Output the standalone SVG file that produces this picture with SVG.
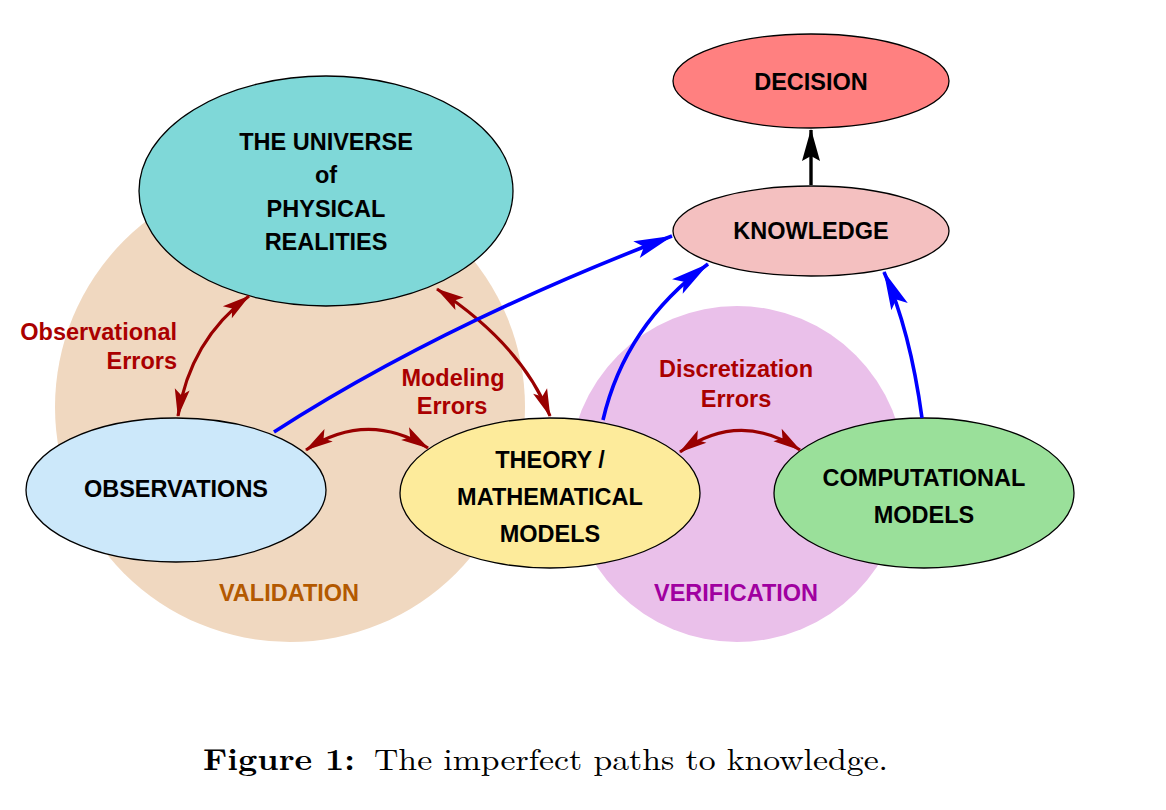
<svg xmlns="http://www.w3.org/2000/svg" width="1166" height="810" viewBox="0 0 1166 810">
<style>
.node{stroke:#000;stroke-width:1.3}
.t{font-family:"Liberation Sans",Arial,sans-serif;font-weight:bold;font-size:23.5px;text-anchor:middle;fill:#000}
.err{font-family:"Liberation Sans",Arial,sans-serif;font-weight:bold;font-size:23.5px;fill:#aa0000}
.red{fill:none;stroke:#990000;stroke-width:3.2}
.blue{fill:none;stroke:#0000ff;stroke-width:3.6}
.blk{fill:none;stroke:#000;stroke-width:3.4}
.cap{font-family:"Latin Modern Roman","Liberation Serif","Times New Roman",serif;font-size:30px;fill:#000}
</style>
<defs>
<marker id="ar" viewBox="-30 -9 32 18" refX="0" refY="0" markerWidth="32" markerHeight="18" markerUnits="userSpaceOnUse" orient="auto-start-reverse">
<path d="M1,0 L-27,-7.5 L-21,0 L-27,7.5 Z" fill="#990000"/>
</marker>
<marker id="ab" viewBox="-42 -10 44 20" refX="0" refY="0" markerWidth="44" markerHeight="20" markerUnits="userSpaceOnUse" orient="auto">
<path d="M1,0 L-38,-9 L-30,0 L-38,9 Z" fill="#0000ff"/>
</marker>
<marker id="ak" viewBox="-34 -10 36 20" refX="0" refY="0" markerWidth="36" markerHeight="20" markerUnits="userSpaceOnUse" orient="auto">
<path d="M1,0 L-31,-9 L-26,0 L-31,9 Z" fill="#000"/>
</marker>
</defs>
<rect width="1166" height="810" fill="#fff"/>
<g id="regions">
<circle cx="290" cy="407" r="235" fill="#f0d8c0"/>
<circle cx="737" cy="474" r="168" fill="#eac0ea"/>
<text class="t" x="289" y="601" style="fill:#b35900">VALIDATION</text>
<text class="t" x="736" y="601" style="fill:#a000a0">VERIFICATION</text>
</g>
<g id="universe">
<ellipse class="node" cx="326" cy="191" rx="187" ry="115" fill="#7fd8d8"/>
<text class="t" x="326" y="150">THE UNIVERSE</text>
<text class="t" x="326" y="183">of</text>
<text class="t" x="326" y="217">PHYSICAL</text>
<text class="t" x="326" y="250">REALITIES</text>
</g>
<g id="decision">
<ellipse class="node" cx="811" cy="81" rx="138" ry="47" fill="#ff8080"/>
<text class="t" x="811" y="90">DECISION</text>
</g>
<g id="knowledge">
<ellipse class="node" cx="811" cy="231" rx="138" ry="45" fill="#f4c0c0"/>
<text class="t" x="811" y="239">KNOWLEDGE</text>
</g>
<g id="observations">
<ellipse class="node" cx="176" cy="490" rx="150" ry="72" fill="#cce8fa"/>
<text class="t" x="176" y="497">OBSERVATIONS</text>
</g>
<g id="theory">
<ellipse class="node" cx="550" cy="493" rx="150" ry="75" fill="#fdeb9b"/>
<text class="t" x="550" y="468">THEORY /</text>
<text class="t" x="550" y="505">MATHEMATICAL</text>
<text class="t" x="550" y="542">MODELS</text>
</g>
<g id="computational">
<ellipse class="node" cx="924" cy="493" rx="150" ry="75" fill="#9ae09a"/>
<text class="t" x="924" y="486">COMPUTATIONAL</text>
<text class="t" x="924" y="523">MODELS</text>
</g>
<g id="connectors">
<path class="red" d="M178,416 Q190,340 249,296" marker-start="url(#ar)" marker-end="url(#ar)"/>
<path class="red" d="M437,289 Q522,345 550,416" marker-start="url(#ar)" marker-end="url(#ar)"/>
<path class="red" d="M306,450 Q367,410 428,448" marker-start="url(#ar)" marker-end="url(#ar)"/>
<path class="red" d="M680,452 Q740,410 800,450" marker-start="url(#ar)" marker-end="url(#ar)"/>
<path class="blue" d="M274,432 Q440,325 672,236" marker-end="url(#ab)"/>
<path class="blue" d="M603,420 Q625,325 708,264" marker-end="url(#ab)"/>
<path class="blue" d="M922,418 Q910,330 884,272" marker-end="url(#ab)"/>
<path class="blk" d="M811,185 L811,130" marker-end="url(#ak)"/>
</g>
<g id="labels">
<text class="err" x="177" y="340" text-anchor="end">Observational</text>
<text class="err" x="177" y="369" text-anchor="end">Errors</text>
<text class="err" x="453" y="386" text-anchor="middle">Modeling</text>
<text class="err" x="452" y="414" text-anchor="middle">Errors</text>
<text class="err" x="736" y="377" text-anchor="middle">Discretization</text>
<text class="err" x="736" y="407" text-anchor="middle">Errors</text>
</g>
<g id="caption">
<text class="cap" x="203" y="770" font-weight="bold" textLength="152" lengthAdjust="spacingAndGlyphs">Figure 1:</text>
<text class="cap" x="374" y="770" textLength="514" lengthAdjust="spacingAndGlyphs">The imperfect paths to knowledge.</text>
</g>
</svg>
